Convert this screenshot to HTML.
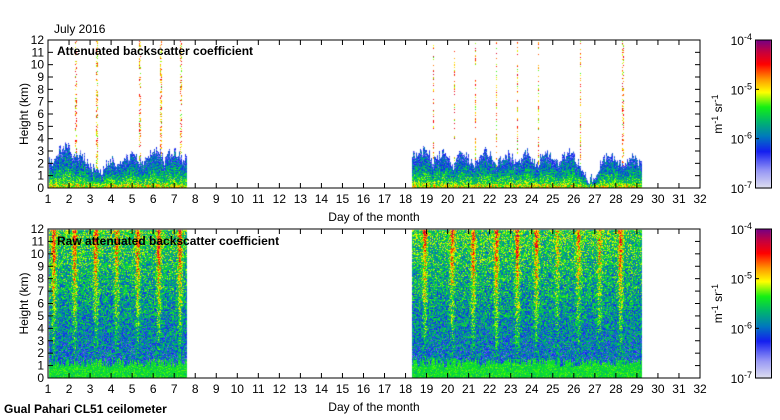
<!DOCTYPE html>
<html><head><meta charset="utf-8"><style>
body{margin:0;background:#fff;width:780px;height:420px;overflow:hidden;font-family:"Liberation Sans",sans-serif;}
#wrap{position:relative;width:780px;height:420px;}
canvas{position:absolute;left:0;top:0;}
svg{position:absolute;left:0;top:0;}
text{font-family:"Liberation Sans",sans-serif;font-size:12px;fill:#000;}
</style></head><body>
<div id="wrap">
<canvas id="cv" width="780" height="420"></canvas>
<svg id="sv" width="780" height="420"></svg>
</div>
<script>
// ---- data ----
const daysTicks = [1,2,3,4,5,6,7,8,9,10,11,12,13,14,15,16,17,18,19,20,21,22,23,24,25,26,27,28,29,30,31,32];
const heightTicks = [0,1,2,3,4,5,6,7,8,9,10,11,12];
const segA = [1.0, 7.6];
const blTopA = [2.3,2.0,3.0,3.5,3.3,2.5,3.0,2.4,1.8,1.5,1.3,2.0,2.3,1.8,2.2,2.5,2.8,2.4,2.0,2.6,3.0,3.3,2.2,2.8,2.9,2.6,2.4];
const segB = [18.3, 29.2];
const blTopB = [2.6,2.8,3.0,3.2,2.2,2.5,3.0,2.6,1.8,2.6,3.1,2.4,1.9,2.5,3.2,2.8,2.0,2.4,2.8,2.7,2.0,2.6,3.0,2.2,2.0,2.8,3.0,2.5,2.0,2.6,3.0,2.6,2.0,1.2,0.6,1.2,2.0,2.5,2.6,2.4,2.0,2.4,2.6,2.2];
const cloudDays = [2.3,3.3,5.35,6.35,7.3,19.3,20.3,21.3,22.3,23.3,24.3,26.3,28.3];
const cloudTops = [12,12,12,12,12,12,12,12,12,12,12,12,12];
const stripeDays = [1.25,2.25,3.25,4.25,5.25,6.25,7.25,18.9,20.2,21.2,22.3,23.3,24.2,25.2,26.2,27.2,28.2];
const stripeStrength = [0.9,0.9,0.8,0.7,0.8,0.9,0.8,0.8,0.8,0.8,0.8,0.9,0.8,0.5,0.7,0.6,0.8];
const cbTicks = [-7,-6,-5,-4];

// ---- geometry ----
const X0=48,X1=700;
const P1={top:40,bot:188}, P2={top:229,bot:378};
const xs = d => X0 + (d-1)*(X1-X0)/31;
const ys = (p,h) => p.bot - h*(p.bot-p.top)/12;
const tOf = x => 1 + (x-X0)*31/(X1-X0);
const hOf = (p,y) => (p.bot-y)*12/(p.bot-p.top);

const stops=[[0,[224,224,240]],[0.12,[150,150,245]],[0.25,[20,30,240]],[0.35,[0,120,190]],[0.45,[0,180,110]],[0.55,[20,240,20]],[0.65,[255,255,0]],[0.74,[255,150,0]],[0.84,[255,0,0]],[0.92,[200,0,60]],[1,[120,0,130]]];
function cmap(v){v=Math.max(0,Math.min(1,v));for(let i=1;i<stops.length;i++){if(v<=stops[i][0]){const a=stops[i-1],b=stops[i];const f=(v-a[0])/(b[0]-a[0]);return a[1].map((c,k)=>Math.round(c+(b[1][k]-c)*f));}}return stops[stops.length-1][1];}
function hash(i,j){let n=i*374761393+j*668265263;n=(n^(n>>13))*1274126177;n=n^(n>>16);return ((n>>>0)%10000)/10000;}
function blAt(t){
  if(t>=segA[0]&&t<=segA[1]){const k=(t-1)/0.25;const i=Math.min(blTopA.length-2,Math.floor(k));const f=k-i;return blTopA[i]*(1-f)+blTopA[i+1]*f;}
  if(t>=segB[0]&&t<=segB[1]){const k=(t-18.25)/0.25;const i=Math.max(0,Math.min(blTopB.length-2,Math.floor(k)));const f=Math.min(1,k-i);return blTopB[i]*(1-f)+blTopB[i+1]*f;}
  return null;
}
function stripeAt(t){let s=0;for(let i=0;i<stripeDays.length;i++){const d=Math.abs(t-stripeDays[i]);s=Math.max(s,stripeStrength[i]*Math.exp(-d*d/0.012));}return s;}

const cv=document.getElementById('cv');const ctx=cv.getContext('2d');
const img=ctx.createImageData(780,420);
function put(x,y,c){const o=(y*780+x)*4;img.data[o]=c[0];img.data[o+1]=c[1];img.data[o+2]=c[2];img.data[o+3]=255;}
for(let x=X0+1;x<X1;x++){
  const t=tOf(x);const bl=blAt(t);if(bl===null)continue;
  let cloud=-1;for(let i=0;i<cloudDays.length;i++){if(Math.abs(t-cloudDays[i])<0.04)cloud=cloudTops[i];}
  for(let y=P1.top+1;y<P1.bot;y++){
    const h=hOf(P1,y);const r=hash(x,y);
    let v=null;
    const top=bl+(hash(x,7)-0.5)*0.8;
    if(h<top){v=0.6-0.38*(h/top)+(r-0.5)*0.3; if(h<0.4)v+=0.06;}
    else if(cloud>0&&h<cloud&&r<0.4){v=0.55+r*0.9;}
    if(v!==null)put(x,y,cmap(v));
  }
  const s=stripeAt(t);
  for(let y=P2.top+1;y<P2.bot;y++){
    const h=hOf(P2,y);const r=hash(x+1000,y);const r2=hash(x,3);
    let v;
    if(h<0.9+r2*0.8){v=0.52+(r-0.5)*0.14;}
    else {v=0.3+0.018*h+s*(0.04+0.028*h)+(r-0.5)*0.36;}
    put(x,y,cmap(v));
  }
}
ctx.putImageData(img,0,0);
// colorbars
[P1,P2].forEach(p=>{for(let y=p.top;y<=p.bot;y++){const c=cmap((p.bot-y)/(p.bot-p.top));ctx.fillStyle=`rgb(${c[0]},${c[1]},${c[2]})`;ctx.fillRect(756,y,15,1);}});

// ---- axes ----
const sv=document.getElementById('sv');const NS='http://www.w3.org/2000/svg';
function el(tag,attrs,txt){const e=document.createElementNS(NS,tag);for(const k in attrs)e.setAttribute(k,attrs[k]);if(txt!==undefined)e.textContent=txt;sv.appendChild(e);return e;}
[[P1,'top'],[P2,'bottom']].forEach(([p,nm])=>{
  const fr=el('rect',{x:X0,y:p.top,width:X1-X0,height:p.bot-p.top,fill:'none',stroke:'#000','stroke-width':1});
  
  
  daysTicks.forEach(d=>{
    const x=xs(d);
    el('line',{x1:x,x2:x,y1:p.bot,y2:p.bot-5,stroke:'#000'});
    el('line',{x1:x,x2:x,y1:p.top,y2:p.top+5,stroke:'#000'});
    const tx=el('text',{x:x,y:p.bot+15,'text-anchor':'middle'},String(d));
    
    
  });
  heightTicks.forEach(h=>{
    const y=ys(p,h);
    el('line',{x1:X0,x2:X0+5,y1:y,y2:y,stroke:'#000'});
    el('line',{x1:X1,x2:X1-5,y1:y,y2:y,stroke:'#000'});
    const tx=el('text',{x:X0-4,y:y+4,'text-anchor':'end'},String(h));
    
    
  });
  const xt=el('text',{x:374,y:p.bot+33,'text-anchor':'middle'},'Day of the month');
  
  
  const yt=el('text',{x:0,y:0,'text-anchor':'middle',transform:`translate(28,${(p.top+p.bot)/2}) rotate(-90)`},'Height (km)');
  
  
  const cb=el('rect',{x:755.5,y:p.top,width:16,height:p.bot-p.top,fill:'none',stroke:'#000'});
  
  
  cbTicks.forEach(e=>{
    const y=p.bot-(e+7)/3*(p.bot-p.top);
    el('line',{x1:755,x2:759,y1:y,y2:y,stroke:'#000'});
    const g=el('text',{x:752,y:y+5,'text-anchor':'end'});
    
    
    g.innerHTML='10<tspan dy="-5" font-size="9">'+e+'</tspan>';
  });
  const cu=el('text',{x:0,y:0,'text-anchor':'middle',transform:`translate(722,${(p.top+p.bot)/2}) rotate(-90)`});
  cu.innerHTML='m<tspan dy="-4" font-size="9">-1</tspan><tspan dy="4"> sr</tspan><tspan dy="-4" font-size="9">-1</tspan>';
  
  
});
const t1=el('text',{x:57,y:55,'font-weight':'bold'},'Attenuated backscatter coefficient');


const t2=el('text',{x:57,y:245,'font-weight':'bold'},'Raw attenuated backscatter coefficient');


const t3=el('text',{x:54,y:33},'July 2016');


const t4=el('text',{x:4,y:413,'font-weight':'bold'},'Gual Pahari CL51 ceilometer');


</script>
</body></html>
